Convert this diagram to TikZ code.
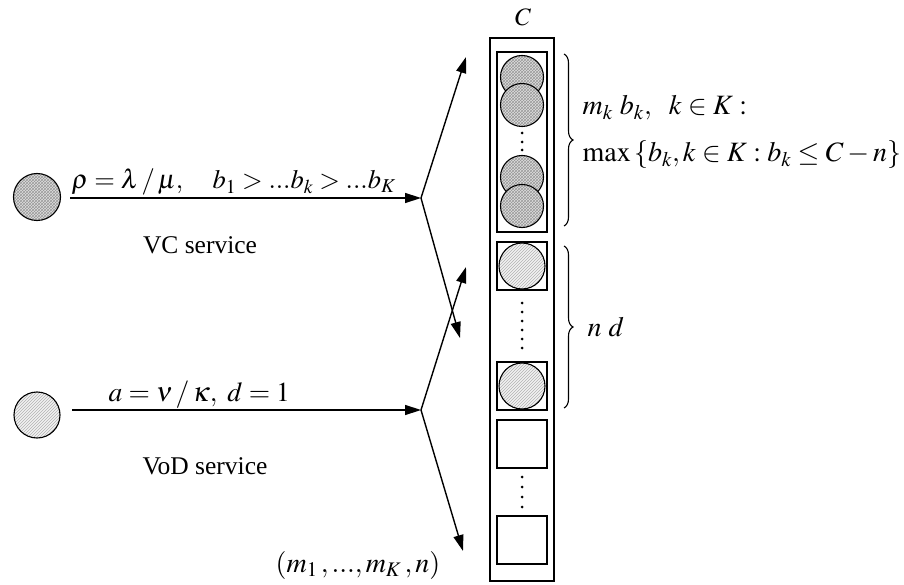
\documentclass[tikz,border=0pt]{standalone}
\IfFileExists{mathptmx.sty}{\usepackage{mathptmx}}{\usepackage{fix-cm}}
\usepackage{fontspec}
\setmainfont{Liberation Serif}
\usetikzlibrary{patterns,arrows.meta,decorations.pathreplacing}
\begin{document}
\begin{tikzpicture}[x=1pt,y=-1pt,line width=1.4pt,
  arr/.style={-{Triangle[length=16pt,width=10pt]}},
  vc/.style={circle,draw,line width=1.1pt,minimum size=43pt,inner sep=0pt,
    preaction={fill=gray!25},pattern=crosshatch,pattern color=gray!80},
  vod/.style={circle,draw,line width=1.1pt,minimum size=46pt,inner sep=0pt,
    preaction={fill=gray!10},pattern=north east lines,pattern color=gray!60},
  slot/.style={draw,line width=1.2pt,minimum width=50pt,inner sep=0pt},
  dot/.style={circle,fill,inner sep=0pt,minimum size=3pt},
  biglab/.style={font=\fontsize{26.5}{30}\selectfont,inner sep=0pt},
  mathlab/.style={font=\fontsize{28}{32}\selectfont,inner sep=0pt},
  txt/.style={font=\fontsize{25.5}{29}\selectfont,inner sep=0pt},
  brc/.style={decorate,decoration={brace,amplitude=9pt},line width=1.1pt}]
\useasboundingbox (0,0) rectangle (904,585);

% source circles
\node[vc,minimum size=47pt] (vcsrc) at (37,197) {};
\node[vod] (vodsrc) at (37,415) {};

% column
\node[draw,line width=1.2pt,minimum width=64pt,minimum height=543pt,inner sep=0pt] (col) at (522,309.5) {};
\node[font=\fontsize{25}{28}\selectfont,inner sep=0pt] (C) at (523,17) {$C$};

% VC group
\node[slot,minimum height=180pt] (vcbox) at (522,142) {};
\node[vc] (c1) at (522,77) {};
\node[vc] (c2) at (522,105) {};
\node[vc] (c3) at (522,177) {};
\node[vc] (c4) at (522,206) {};
\foreach \y/\n in {133/a,142/b,150/c} \node[dot] (vd\n) at (522,\y) {};

% VoD slots
\node[slot,minimum height=48pt] (s1) at (522,266) {};
\node[vod] (v1) at (522,266) {};
\foreach \y/\n in {303/a,312/b,321/c,330/d,339/e,348/f} \node[dot] (od\n) at (522,\y) {};
\node[slot,minimum height=48pt] (s2) at (522,386) {};
\node[vod] (v2) at (522,386) {};

% empty slots
\node[slot,minimum height=48pt] (e1) at (522,444) {};
\foreach \y/\n in {477/a,487/b,497/c,507/d} \node[dot] (ed\n) at (522,\y) {};
\node[slot,minimum height=48pt] (e2) at (522,540) {};

% arrows
\coordinate (vcstart) at (70,198);
\coordinate (vcb) at (421,198);
\coordinate (vcup) at (466,57);
\coordinate (vcdn) at (460,338);
\coordinate (vodstart) at (72,410);
\coordinate (vodb) at (421,410);
\coordinate (vodup) at (466,267);
\coordinate (voddn) at (463,551);
\draw[arr] (vcstart) -- (vcb);
\draw[arr] (vcb) -- (vcup);
\draw[arr] (vcb) -- (vcdn);
\draw[arr] (vodstart) -- (vodb);
\draw[arr] (vodb) -- (vodup);
\draw[arr] (vodb) -- (voddn);

% labels
\node[biglab,anchor=base west] (vclab) at (71,189) {$\rho=\lambda\,/\,\mu,\quad b_1>...b_k>...b_K$};
\node[txt] (vctxt) at (200,245) {VC service};
\node[biglab,font=\fontsize{27.5}{31}\selectfont,anchor=base west] (vodlab) at (108,401) {$a=\nu\,/\,\kappa,\ d=1$};
\node[txt] (vodtxt) at (205,466) {VoD service};
\node[mathlab,anchor=base] (state) at (358,572) {$\left(m_1\,,...,m_K\,,n\right)$};

% braces
\coordinate (b1t) at (564,54);
\coordinate (b1b) at (564,226);
\draw[brc] (b1t) -- (b1b);
\node[mathlab,anchor=base west] (l1) at (582,115) {$m_k\ b_k,\ \ k\in K:$};
\node[mathlab,anchor=base west] (l2) at (582,162) {$\max\left\{b_k,k\in K: b_k\le C-n\right\}$};
\coordinate (b2t) at (564,246);
\coordinate (b2b) at (564,408);
\draw[brc] (b2t) -- (b2b);
\node[mathlab,anchor=base west] (l3) at (587,336) {$n\ d$};
\end{tikzpicture}
\end{document}
